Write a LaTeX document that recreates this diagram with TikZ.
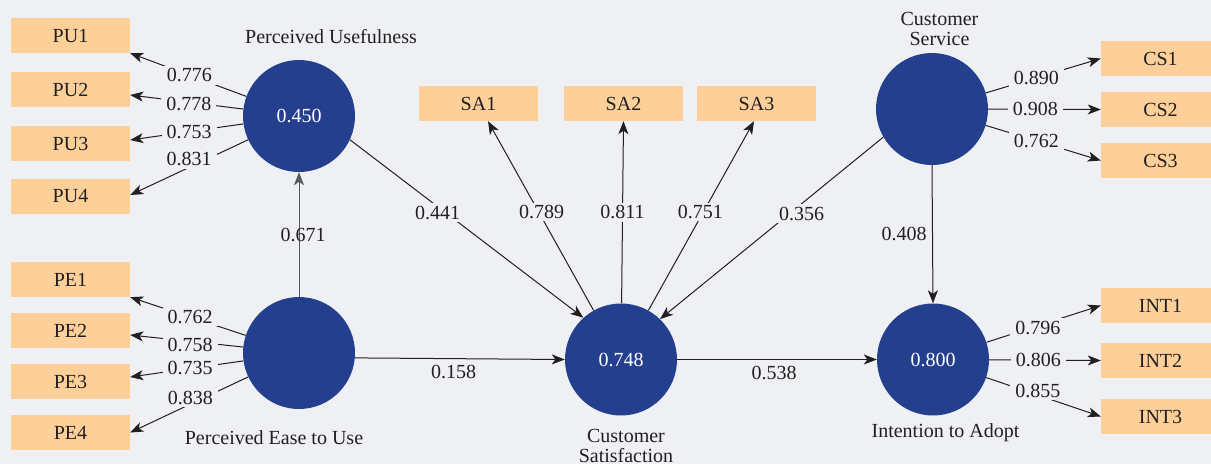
\documentclass[tikz,border=0pt]{standalone}
\usepackage{fontspec}
\setmainfont{Liberation Serif}
\usetikzlibrary{arrows.meta}
\definecolor{bgc}{RGB}{238,240,244}
\definecolor{boxc}{RGB}{253,208,153}
\definecolor{navy}{RGB}{37,63,143}
\definecolor{ink}{RGB}{35,31,32}
\definecolor{greyline}{RGB}{88,89,91}
\begin{document}
\begin{tikzpicture}[x=1pt,y=-1pt,
  font=\fontsize{20}{19.5}\selectfont,
  indicator/.style={fill=boxc,minimum width=119pt,minimum height=35pt,inner sep=0pt,text=ink},
  latent/.style={circle,fill=navy,minimum size=112pt,inner sep=0pt,text=white},
  caption/.style={text=ink,align=center,inner sep=0pt},
  link/.style={draw=ink,line width=1pt,-{Stealth[length=13pt,width=10pt,inset=3.5pt]}},
  weight/.style={fill=bgc,inner xsep=5pt,inner ysep=2.5pt,text=ink},
  coef/.style={inner sep=1.5pt,text=ink}]
\useasboundingbox (0,0) rectangle (1211,464);
\fill[bgc] (0,0) rectangle (1211,464);
\begin{scope}
\clip (0,0) rectangle (1211,464);

% latent variables
\node[latent] (pu)  at (299,116) {0.450};
\node[latent] (pe)  at (299,353) {};
\node[latent] (sat) at (621,359.5) {0.748};
\node[latent] (srv) at (932,109) {};
\node[latent] (int) at (933,359.5) {0.800};

% construct names
\node[caption] (puname)  at (331,37)  {Perceived Usefulness};
\node[caption] (pename)  at (274,438) {Perceived Ease to Use};
\node[caption,anchor=base] (satname) at (626,462) {Customer\\Satisfaction};
\node[caption,anchor=base] (srvname) at (939.5,45) {Customer\\Service};
\node[caption] (intname) at (945.5,433) {Intention to Adopt};

% indicators
\node[indicator] (pu1) at (70.5,35.5)  {PU1};
\node[indicator] (pu2) at (70.5,89.5)  {PU2};
\node[indicator] (pu3) at (70.5,143.5) {PU3};
\node[indicator] (pu4) at (70.5,196.5) {PU4};
\node[indicator] (pe1) at (70.5,279.5) {PE1};
\node[indicator] (pe2) at (70.5,330.5) {PE2};
\node[indicator] (pe3) at (70.5,381.5) {PE3};
\node[indicator] (pe4) at (70.5,432.5) {PE4};
\node[indicator] (sa1) at (478.5,103.5) {SA1};
\node[indicator] (sa2) at (623.5,103.5) {SA2};
\node[indicator] (sa3) at (756.5,103.5) {SA3};
\node[indicator] (cs1) at (1160.5,58.5)  {CS1};
\node[indicator] (cs2) at (1160.5,109.5) {CS2};
\node[indicator] (cs3) at (1160.5,160.5) {CS3};
\node[indicator] (in1) at (1160.5,305.5) {INT1};
\node[indicator] (in2) at (1160.5,360.5) {INT2};
\node[indicator] (in3) at (1160.5,416.5) {INT3};

% outer loadings
\draw[link] (pu) -- node[weight,pos=0.49] {0.776} (pu1.south east);
\draw[link] (pu) -- node[weight,pos=0.48,yshift=-2pt] {0.778} ([yshift=-5.5pt]pu2.east);
\draw[link] (pu) -- node[weight,pos=0.48] {0.753} ([yshift=3.5pt]pu3.east);
\draw[link] (pu) -- node[weight,pos=0.50,yshift=8pt] {0.831} ([yshift=1.5pt]pu4.east);

\draw[link] (pe) -- node[weight,pos=0.48] {0.762} (pe1.south east);
\draw[link] (pe) -- node[weight,pos=0.47,yshift=-4pt] {0.758} ([yshift=-4.5pt]pe2.east);
\draw[link] (pe) -- node[weight,pos=0.47] {0.735} ([yshift=4.5pt]pe3.east);
\draw[link] (pe) -- node[weight,pos=0.49,yshift=6pt] {0.838} (pe4.east);

\draw[link] (sat) -- node[weight,pos=0.52,xshift=3pt] {0.789} ([xshift=9.5pt]sa1.south);
\draw[link] (sat) -- node[weight,pos=0.50] {0.811} (sa2.south);
\draw[link] (sat) -- node[weight,pos=0.52,xshift=-3pt] {0.751} ([xshift=-2.5pt]sa3.south);

\draw[link] (srv) -- node[weight,pos=0.44] {0.890} (cs1.west);
\draw[link] (srv) -- node[weight,pos=0.42] {0.908} (cs2.west);
\draw[link] (srv) -- node[weight,pos=0.44] {0.762} (cs3.west);

\draw[link] (int) -- node[weight,pos=0.45,yshift=-2pt] {0.796} (in1.west);
\draw[link] (int) -- node[weight,pos=0.44] {0.806} (in2.west);
\draw[link] (int) -- node[weight,pos=0.45,yshift=4pt] {0.855} (in3.west);

% structural paths
\draw[link,draw=greyline] (pe.north) -- node[coef,pos=0.5,xshift=4pt] {0.671} (pu.south);
\draw[link] (pu.-25) -- node[weight,pos=0.41,xshift=-8pt] {0.441} (sat.132);
\draw[link] (srv.-150) -- node[weight,pos=0.42,xshift=12pt] {0.356} (sat.46);
\draw[link] (pe.-5) -- node[coef,pos=0.47,below=5pt] {0.158} (sat.west);
\draw[link] (sat.east) -- node[coef,pos=0.485,below=5pt] {0.538} (int.west);
\draw[link] (srv.south) -- node[coef,pos=0.5,left=4pt] {0.408} (int.north);
\end{scope}
\end{tikzpicture}
\end{document}
